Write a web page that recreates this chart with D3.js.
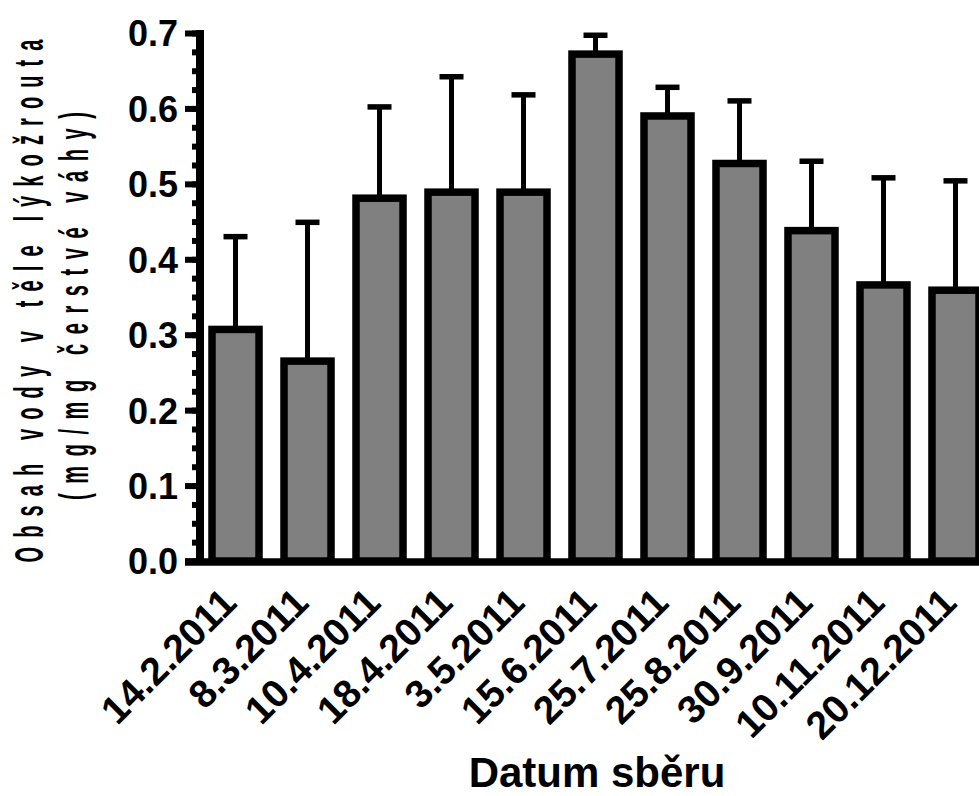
<!DOCTYPE html>
<html>
<head>
<meta charset="utf-8">
<script src="https://cdn.jsdelivr.net/npm/d3@7"></script>
<style>
  body { margin: 0; background: #fff; }
  svg { display: block; }
</style>
</head>
<body>
<div id="graf"></div>
<script>
// Data cteni z grafu: datum sberu, prumer a chyba (horni usecka)
const datumy = ["14.2.2011", "8.3.2011", "10.4.2011", "18.4.2011", "3.5.2011", "15.6.2011",
                "25.7.2011", "25.8.2011", "30.9.2011", "10.11.2011", "20.12.2011"];
const prumery = [0.307, 0.265, 0.481, 0.489, 0.489, 0.672, 0.590, 0.527, 0.438, 0.366, 0.359];
const chyby   = [0.123, 0.184, 0.121, 0.153, 0.129, 0.025, 0.038, 0.083, 0.092, 0.142, 0.145];
const yTicky  = [0, 0.1, 0.2, 0.3, 0.4, 0.5, 0.6, 0.7];

const sirka = 979, vyska = 796;
const osaX = 200;   // poloha svisle osy
const pismo = "'Liberation Sans', Arial, sans-serif";

const svg = d3.select("#graf").append("svg")
  .attr("width", sirka)
  .attr("height", vyska);

const x = d3.scaleBand()
  .domain(datumy)
  .range([212, 979])
  .paddingInner(0.347)
  .paddingOuter(0);

const y = d3.scaleLinear()
  .domain([0, 0.7])
  .range([561, 33]);

// chybove usecky (pod sloupci)
const chybaG = svg.append("g");
datumy.forEach((d, i) => {
  let cx = x(d) + x.bandwidth() / 2;
  chybaG.append("line")
    .attr("x1", cx).attr("x2", cx)
    .attr("y1", y(prumery[i])).attr("y2", y(prumery[i] + chyby[i]))
    .attr("stroke", "black").attr("stroke-width", 5);
  chybaG.append("line")
    .attr("x1", cx - 12).attr("x2", cx + 12)
    .attr("y1", y(prumery[i] + chyby[i])).attr("y2", y(prumery[i] + chyby[i]))
    .attr("stroke", "black").attr("stroke-width", 5.5);
});

// sloupce
svg.append("g").selectAll("rect")
  .data(datumy)
  .join("rect")
  .attr("x", d => x(d))
  .attr("width", x.bandwidth())
  .attr("y", (d, i) => y(prumery[i]))
  .attr("height", (d, i) => y(0) - y(prumery[i]))
  .attr("fill", "#808080")
  .attr("stroke", "black")
  .attr("stroke-width", 7.5);

// svisla osa - vedlejsi carky
svg.append("g")
  .attr("transform", "translate(" + osaX + ",0)")
  .call(d3.axisLeft(y).tickValues(d3.range(0, 0.7001, 0.025)).tickSize(8).tickFormat(""))
  .call(g => g.select(".domain").remove())
  .call(g => g.selectAll("line").attr("stroke-width", 6));

// svisla osa - hlavni carky a popisky
svg.append("g")
  .attr("transform", "translate(" + osaX + ",0)")
  .call(d3.axisLeft(y).tickValues(yTicky).tickSize(15).tickSizeOuter(0).tickFormat(d3.format(".1f")))
  .call(g => g.select(".domain").attr("stroke-width", 8).attr("d", "M0," + (y(0.7) - 3) + "V" + (y(0) + 4)))
  .call(g => g.selectAll("line").attr("stroke-width", 6))
  .call(g => g.selectAll("text")
    .attr("x", -22)
    .attr("dy", "0.36em")
    .style("font-family", pismo)
    .style("font-weight", "bold")
    .style("font-size", "36px")
    .attr("fill", "black"));

// vodorovna osa
svg.append("g")
  .attr("transform", "translate(0," + (y(0) + 1) + ")")
  .call(d3.axisBottom(x).tickSize(0))
  .call(g => g.select(".domain").attr("stroke-width", 7.5).attr("d", "M185,0H" + sirka))
  .call(g => g.selectAll("text")
    .attr("x", 0).attr("y", 0).attr("dy", 0)
    .attr("text-anchor", "end")
    .attr("transform", "translate(3,43) rotate(-45)")
    .style("font-family", pismo)
    .style("font-weight", "bold")
    .style("font-size", "39px")
    .attr("fill", "black"));

// nazev osy x
svg.append("text")
  .attr("x", 597)
  .attr("y", 787)
  .attr("text-anchor", "middle")
  .style("font-family", pismo)
  .style("font-weight", "bold")
  .style("font-size", "42px")
  .text("Datum sběru");

// nazev osy y (dva radky, uzke a prolozene pismo)
const stlac = 0.5;
const yNazev = [
  { text: "Obsah vody v těle lýkožrouta", x: 43, stred: 301, delka: 523 },
  { text: "(mg/mg čerstvé váhy)", x: 88, stred: 306, delka: 388 }
];
yNazev.forEach(r => {
  svg.append("text")
    .attr("transform", "translate(" + r.x + "," + r.stred + ") rotate(-90) scale(" + stlac + ",1)")
    .attr("text-anchor", "middle")
    .attr("textLength", r.delka / stlac)
    .attr("lengthAdjust", "spacing")
    .style("font-family", pismo)
    .style("font-weight", "bold")
    .style("font-size", "40px")
    .text(r.text);
});
</script>
</body>
</html>
